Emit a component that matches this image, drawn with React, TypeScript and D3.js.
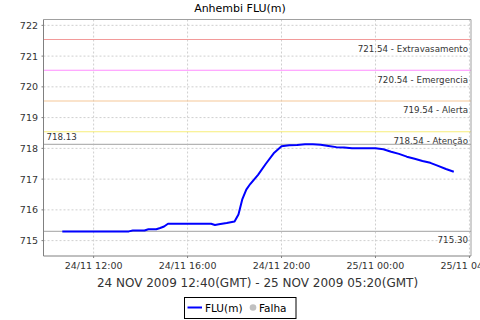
import * as d3 from 'd3';

const title = 'Anhembi FLU(m)';
const subtitle = '24 NOV 2009 12:40(GMT) - 25 NOV 2009 05:20(GMT)';

// reading times (local, GMT-2) and river level in metres
const times = [
  '2009-11-24T10:40', '2009-11-24T11:00', '2009-11-24T11:20', '2009-11-24T11:40',
  '2009-11-24T12:00', '2009-11-24T12:20', '2009-11-24T12:40', '2009-11-24T13:00',
  '2009-11-24T13:20', '2009-11-24T13:30', '2009-11-24T13:40', '2009-11-24T14:00',
  '2009-11-24T14:10', '2009-11-24T14:20', '2009-11-24T14:40', '2009-11-24T14:50',
  '2009-11-24T15:00', '2009-11-24T15:10', '2009-11-24T15:20', '2009-11-24T15:40',
  '2009-11-24T16:00', '2009-11-24T16:20', '2009-11-24T16:40', '2009-11-24T17:00',
  '2009-11-24T17:10', '2009-11-24T17:20', '2009-11-24T17:40', '2009-11-24T18:00',
  '2009-11-24T18:10', '2009-11-24T18:20', '2009-11-24T18:30', '2009-11-24T18:40',
  '2009-11-24T19:00', '2009-11-24T19:20', '2009-11-24T19:40', '2009-11-24T20:00',
  '2009-11-24T20:20', '2009-11-24T20:40', '2009-11-24T21:00', '2009-11-24T21:20',
  '2009-11-24T21:40', '2009-11-24T22:00', '2009-11-24T22:20', '2009-11-24T22:40',
  '2009-11-24T23:00', '2009-11-24T23:20', '2009-11-24T23:40', '2009-11-25T00:00',
  '2009-11-25T00:20', '2009-11-25T00:40', '2009-11-25T01:00', '2009-11-25T01:20',
  '2009-11-25T01:40', '2009-11-25T02:00', '2009-11-25T02:20', '2009-11-25T02:40',
  '2009-11-25T03:00', '2009-11-25T03:20',
];
const levels = [
  715.30, 715.30, 715.30, 715.30,
  715.30, 715.30, 715.30, 715.30,
  715.30, 715.30, 715.33, 715.33,
  715.33, 715.37, 715.37, 715.41,
  715.46, 715.55, 715.55, 715.55,
  715.55, 715.55, 715.55, 715.55,
  715.51, 715.53, 715.57, 715.62,
  715.85, 716.35, 716.66, 716.84,
  717.14, 717.50, 717.84, 718.07,
  718.10, 718.11, 718.13, 718.13,
  718.12, 718.08, 718.04, 718.03,
  718.00, 718.00, 718.00, 718.00,
  717.97, 717.89, 717.82, 717.73,
  717.66, 717.59, 717.53, 717.43,
  717.33, 717.24,
];

const limitValues = [721.54, 720.54, 719.54, 718.54];
const limitNames = ['Extravasamento', 'Emergencia', 'Alerta', 'Atenção'];
const limitColors = ['#f29a9a', '#ff8cff', '#f6c898', '#f7ee7a'];

const maxLevel = 718.13;
const minLevel = 715.30;

const yTicks = [715, 716, 717, 718, 719, 720, 721, 722];
const xTicks = ['2009-11-24T12:00', '2009-11-24T16:00', '2009-11-24T20:00', '2009-11-25T00:00', '2009-11-25T04:00'];
const xTickLabels = ['24/11 12:00', '24/11 16:00', '24/11 20:00', '25/11 00:00', '25/11 04:00'];

const legendItems = ['FLU(m)', 'Falha'];

const W = 480;
const H = 320;
const plot = { left: 43.5, right: 471, top: 19.5, bottom: 256 };
const font = '"DejaVu Sans", sans-serif';

const parse = (s: string) => new Date(s + ':00Z');

export default function App() {
  const x = d3.scaleUtc()
    .domain([parse('2009-11-24T09:52'), parse('2009-11-25T04:04')])
    .range([plot.left, plot.right]);
  const y = d3.scaleLinear()
    .domain([714.5, 722.19])
    .range([plot.bottom, plot.top]);

  const points = times.map((t, i) => ({ t: parse(t), v: levels[i] }));
  const line = d3.line<{ t: Date; v: number }>()
    .x(d => x(d.t))
    .y(d => y(d.v));

  const fmt = d3.format('.2f');

  return (
    <svg width={W} height={H} style={{ position: 'absolute', left: 0, top: 0, background: '#fff' }}
      fontFamily={font}>
      <rect x={0} y={0} width={W} height={H} fill="#fff" />

      <text x={240} y={11.5} textAnchor="middle" fontSize={11} fill="#000">{title}</text>

      {/* grid */}
      {yTicks.map(v => (
        <line key={'gy' + v} x1={plot.left} x2={plot.right} y1={y(v)} y2={y(v)}
          stroke="#cfcfcf" strokeWidth={1} strokeDasharray="2 2" />
      ))}
      {xTicks.map(t => (
        <line key={'gx' + t} x1={x(parse(t))} x2={x(parse(t))} y1={plot.top} y2={plot.bottom}
          stroke="#cfcfcf" strokeWidth={1} strokeDasharray="2 2" />
      ))}

      {/* limit lines */}
      {limitValues.map((v, i) => (
        <g key={'lim' + v}>
          <line x1={plot.left} x2={plot.right} y1={y(v)} y2={y(v)} stroke={limitColors[i]} strokeWidth={1.2} />
          <text x={468} y={y(v) + 12.5} textAnchor="end" fontSize={8.7} fill="#333">
            {`${fmt(v)} - ${limitNames[i]}`}
          </text>
        </g>
      ))}

      {/* max / min markers */}
      <line x1={plot.left} x2={plot.right} y1={y(maxLevel)} y2={y(maxLevel)} stroke="#b4b4b4" strokeWidth={1.2} />
      <text x={46.5} y={y(maxLevel) - 4} fontSize={8.7} fill="#333">{fmt(maxLevel)}</text>
      <line x1={plot.left} x2={plot.right} y1={y(minLevel)} y2={y(minLevel)} stroke="#b4b4b4" strokeWidth={1.2} />
      <text x={468} y={y(minLevel) + 11.5} textAnchor="end" fontSize={8.7} fill="#333">{fmt(minLevel)}</text>

      {/* series */}
      <path d={line(points) ?? ''} fill="none" stroke="#0000ff" strokeWidth={2} strokeLinejoin="round" />

      {/* frame */}
      <line x1={plot.left} x2={plot.right} y1={plot.top} y2={plot.top} stroke="#a0a0a0" />
      <line x1={plot.right} x2={plot.right} y1={plot.top} y2={plot.bottom} stroke="#a0a0a0" />
      <line x1={plot.left} x2={plot.left} y1={plot.top} y2={plot.bottom} stroke="#808080" />
      <line x1={plot.left} x2={plot.right} y1={plot.bottom} y2={plot.bottom} stroke="#808080" />

      {/* y axis */}
      {yTicks.map(v => (
        <g key={'yt' + v}>
          <line x1={plot.left - 2} x2={plot.left} y1={y(v)} y2={y(v)} stroke="#808080" />
          <text x={38} y={y(v)} dy="0.36em" textAnchor="end" fontSize={9.5} fill="#333">{v}</text>
        </g>
      ))}

      {/* x axis */}
      {xTicks.map((t, i) => (
        <g key={'xt' + t}>
          <line x1={x(parse(t))} x2={x(parse(t))} y1={plot.bottom} y2={plot.bottom + 2} stroke="#808080" />
          <text x={x(parse(t))} y={269} textAnchor="middle" fontSize={9.5} fill="#333">{xTickLabels[i]}</text>
        </g>
      ))}

      <text x={257.5} y={286.5} textAnchor="middle" fontSize={12} fill="#333">{subtitle}</text>

      {/* legend */}
      <rect x={184.5} y={297.5} width={111.5} height={21} fill="#fff" stroke="#000" />
      <line x1={187.5} x2={202} y1={307.5} y2={307.5} stroke="#0000ff" strokeWidth={2} />
      <text x={205} y={311.5} fontSize={10.5} fill="#000">{legendItems[0]}</text>
      <circle cx={253} cy={307.5} r={3.3} fill="#c0c0c0" />
      <text x={259} y={311.5} fontSize={10.5} fill="#000">{legendItems[1]}</text>
    </svg>
  );
}
